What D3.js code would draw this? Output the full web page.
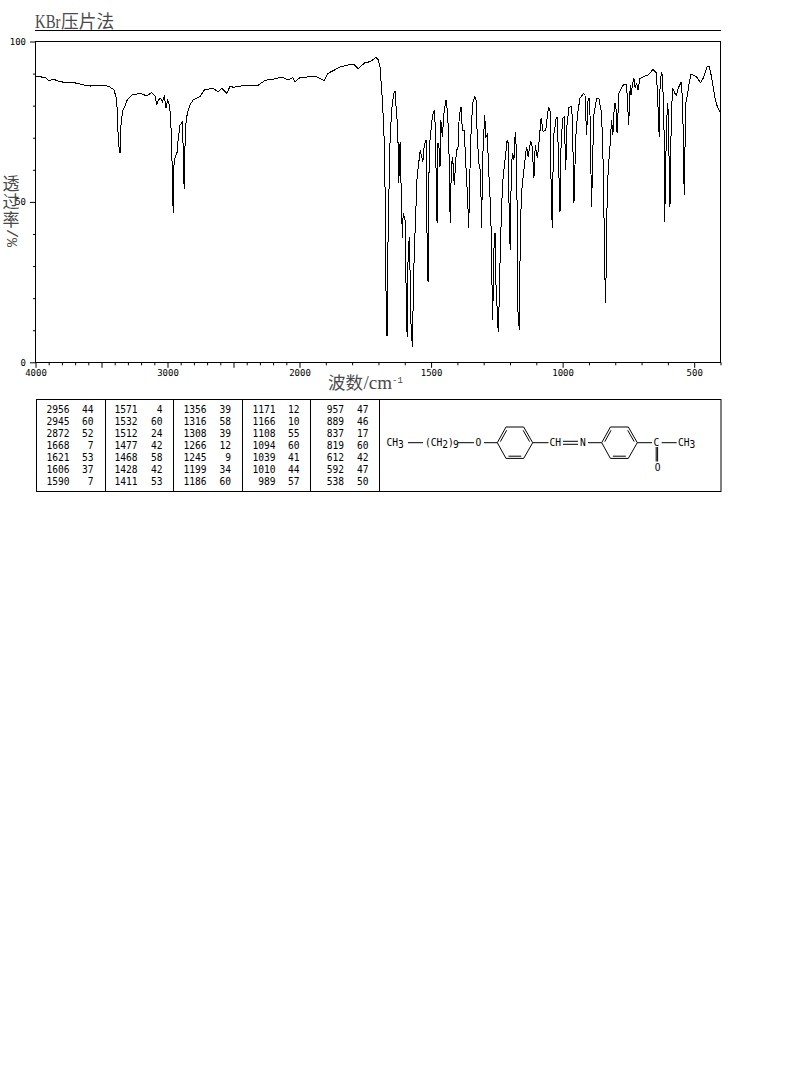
<!DOCTYPE html>
<html><head><meta charset="utf-8">
<script src="https://cdn.jsdelivr.net/npm/d3@7/dist/d3.min.js"></script>
<style>html,body{margin:0;padding:0;background:#fff}svg{display:block}</style>
</head><body><svg id="c" width="794" height="1077"></svg>
<script>
const wavenumbers=[4000,3981,3951,3920,3898,3860,3830,3777,3701,3625,3587,3549,3473,3436,3405,3390,3380,3373,3362,3354,3352,3339,3322,3305,3271,3208,3158,3120,3095,3082,3070,3051,3039,3024,3011,2998,2986,2976,2966,2961,2956,2953,2943,2926,2920,2905,2888,2883,2880,2873,2865,2850,2830,2805,2754,2721,2655,2617,2589,2551,2526,2501,2451,2388,2352,2312,2261,2248,2201,2186,2125,2087,2051,2034,1998,1986,
1941,1907,1891,1872,1846,1796,1777,1751,1732,1713,1709,1700,1694,1685,1679,1675,1671,1669,1665,1664.5,1661,1656,1650,1642,1637,1632,1627,1622,1621,1617,1614,1609,1606,1599,1596,1593,1590,1589,1583,1580,1576,1571,1568,1564,1560,1553,1547,1541,1536,1531,1526,1519,1517,1514,1511,1509,1504,1495,1488,1482,1480,1476,1474,1470,1466,1463,1457,1451,1443,1437,1432,1429,1427,1423,1418,1412,1405,1400,1398,1393,1386,1381,1374,1365,1361,1357,1353,1348,1342,1334,1329,1324,1317,1312,1308,1304,1299,1296,1292,1285,1283,1276,1270,1267,1265,1262,1257,1253,1248,1245,1242,1238,1232,1226,1219,1211,1206,1203,1199,1195,1190,1185,1180,1174,1172,1169,1164,1161,1156,1150,1143,1137,1131,1122,1117,1109,1104,1096,1089,1082,1074,1064,1057,1052,1047,1043,1039,1035,1029,1024,1020,1015,1010,1006,1000,994,988,984,976,968,963,957,950,943,934,921,915,909,903,897,890,882,871,862,852,846,839,836,833,827,820,814,809,803,798,793,786,770,757,749,743,740,734,729,724,719,713,706,694,675,656,645,640,636,633,630,625,620,614,612,608,602,599,592,587,582,573,567,561,550,544,538,532,527,519,512,504,491,476,466,451,443,434,421,412,401];
const transmittance=[89.0,89.2,88.9,88.6,87.8,88.2,87.7,87.2,87.1,86.4,86.1,86.4,86.4,85.8,84.9,82.7,78.6,69.3,65.3,65.3,74.6,78.6,79.9,81.8,83.3,83.8,83.1,84.0,83.1,80.2,81.8,82.3,81.2,82.8,79.3,81.8,80.2,76.6,63.1,52.1,46.4,61.0,63.7,65.6,69.3,74.0,74.8,70.3,59.9,53.9,72.9,77.6,80.2,81.8,82.8,84.9,85.4,84.3,85.4,83.8,86.1,85.7,86.1,86.4,86.4,86.4,87.9,88.0,88.0,88.5,88.8,88.0,88.8,87.5,88.8,88.8,
89.2,87.8,90.1,90.9,92.1,93.0,91.6,93.4,93.7,94.8,95.1,94.2,92.1,81.8,71.5,54.7,20.4,8.2,8.2,33.1,49.7,68.4,78.6,83.8,84.6,78.6,73.4,55.9,66.2,68.8,54.7,38.7,46.5,44.4,29.8,11.1,8.0,28.8,39.2,28.8,11.1,4.9,18.5,34.1,42.3,57.9,62.1,66.2,64.1,62.5,67.7,69.3,56.8,25.7,25.1,55.9,69.3,76.6,78.6,71.5,44.4,43.8,68.4,67.2,61.0,75.5,70.3,77.7,81.8,77.7,66.2,50.6,43.4,61.0,64.1,55.3,64.1,67.2,66.2,76.6,79.7,72.4,72.4,56.8,51.2,41.9,57.4,71.5,80.8,82.7,81.8,69.3,61.0,59.9,41.9,63.1,72.4,77.1,69.9,71.5,63.1,51.6,37.2,13.2,16.3,34.1,40.3,23.6,15.4,9.5,16.3,31.0,48.5,57.9,63.1,69.1,68.3,43.4,35.0,61.0,65.2,63.1,71.9,64.1,23.6,13.8,10.1,41.2,52.8,57.9,63.1,67.2,64.1,68.8,68.4,57.5,67.7,63.7,69.3,76.1,71.9,72.4,77.7,79.4,78.1,49.0,41.8,70.3,73.4,76.4,76.4,61.0,46.9,67.2,76.1,76.4,59.9,73.4,79.5,79.7,76.6,49.6,70.3,77.6,82.3,83.8,83.3,70.9,82.3,82.3,48.5,76.6,82.3,82.1,77.6,62.0,25.7,18.4,43.4,59.9,67.2,75.5,70.9,80.7,80.7,71.4,83.8,86.4,86.7,74.0,86.4,83.3,87.0,88.5,85.4,87.0,84.9,88.5,89.0,89.6,91.3,90.3,84.9,76.6,70.3,84.9,90.6,89.0,70.3,43.8,63.1,80.7,78.6,48.5,76.6,85.4,83.8,83.3,85.4,87.2,81.8,52.1,80.7,82.8,87.0,89.9,89.5,89.0,87.2,88.5,92.1,92.1,89.0,82.3,79.7,77.9];

const xLabelled=[4000,3000,2000,1500,1000,500];
const xMajor=[4000,3500,3000,2500,2000,1500,1000,500];
const xMinor=[3900,3800,3700,3600,3400,3300,3200,3100,2900,2800,2700,2600,2400,2300,2200,2100,1900,1800,1700,1600,1400,1300,1200,1100,900,800,700,600,400];
const yLabelled=[100,50,0];
const yMinor=[90,80,70,60,40,30,20,10];

const peakColumns=[
 [[2956,44],[2945,60],[2872,52],[1668,7],[1621,53],[1606,37],[1590,7]],
 [[1571,4],[1532,60],[1512,24],[1477,42],[1468,58],[1428,42],[1411,53]],
 [[1356,39],[1316,58],[1308,39],[1266,12],[1245,9],[1199,34],[1186,60]],
 [[1171,12],[1166,10],[1108,55],[1094,60],[1039,41],[1010,44],[989,57]],
 [[957,47],[889,46],[837,17],[819,60],[612,42],[592,47],[538,50]]
];
const titleLatin="KBr", titleCjk="压片法";
const yTitleChars=["透","过","率"], yTitleUnit="/%";

const svg=d3.select("#c");
const CJK='"Noto Sans CJK SC"', LMONO='"Liberation Mono"', SERIF='"Liberation Serif"', MONO='"DejaVu Sans Mono"';
const gray="#4a4a4a";
const x=d3.scaleLinear().domain([4000,2000,400]).range([35.5,299.5,720.5]);
const y=d3.scaleLinear().domain([0,100]).range([362.3,41.5]);

// title & rule
svg.append("text").attr("x",35).attr("y",28.3).attr("fill",gray).attr("font-family",SERIF).attr("font-size",18)
 .attr("textLength",25.5).attr("lengthAdjust","spacingAndGlyphs").text(titleLatin);
svg.append("text").attr("x",61).attr("y",28.3).attr("fill",gray).attr("font-family",CJK).attr("font-size",17.7).text(titleCjk);
svg.append("line").attr("x1",35).attr("x2",721).attr("y1",30.5).attr("y2",30.5).attr("stroke","#000");

// frame
svg.append("rect").attr("x",x(4000)).attr("y",41.5).attr("width",x(400)-x(4000)).attr("height",321).attr("fill","none").attr("stroke","#000").attr("stroke-width",1);

function styleAxis(g){g.select(".domain").remove();g.selectAll("line").attr("stroke","#000").attr("stroke-width",1);
 g.selectAll("text").attr("font-family",MONO).attr("font-size",9).attr("fill","#000");}
svg.append("g").attr("transform",`translate(0,${y(0)})`)
 .call(d3.axisBottom(x).tickValues(xMinor).tickSize(3).tickFormat("")).call(styleAxis);
svg.append("g").attr("transform",`translate(0,${y(0)})`)
 .call(d3.axisBottom(x).tickValues(xMajor).tickSize(5.5).tickPadding(2).tickFormat(d=>xLabelled.includes(d)?d:"")).call(styleAxis);
svg.append("g").attr("transform",`translate(${x(4000)},0)`)
 .call(d3.axisLeft(y).tickValues(yMinor).tickSize(2.5).tickFormat("")).call(styleAxis);
svg.append("g").attr("transform",`translate(${x(4000)},0)`)
 .call(d3.axisLeft(y).tickValues(yLabelled).tickSize(5.5).tickPadding(4).tickFormat(d=>d)).call(styleAxis);

// spectrum
const pts=wavenumbers.map((w,i)=>[w,transmittance[i]]);
svg.append("path").datum(pts)
 .attr("d",d3.line().x(d=>x(d[0])).y(d=>y(d[1])))
 .attr("fill","none").attr("stroke","#000").attr("stroke-width",1).attr("shape-rendering","crispEdges");

// axis titles
svg.append("text").attr("x",328).attr("y",388.5).attr("fill",gray).attr("font-family",CJK).attr("font-size",17.5).text("波数");
svg.append("text").attr("x",363.5).attr("y",388.5).attr("fill",gray).attr("font-family",SERIF).attr("font-size",18)
 .attr("textLength",28.5).attr("lengthAdjust","spacingAndGlyphs").text("/cm");
svg.append("text").attr("x",392).attr("y",382.5).attr("fill",gray).attr("font-family",LMONO).attr("font-size",9).text("-1");
yTitleChars.forEach((ch,i)=>svg.append("text").attr("x",11).attr("y",190+18*i).attr("text-anchor","middle")
 .attr("fill",gray).attr("font-family",CJK).attr("font-size",17).text(ch));
svg.append("text").attr("transform","translate(7,229) rotate(90)").attr("fill",gray)
 .attr("font-family",LMONO).attr("font-size",15).text(yTitleUnit);

// peak table
const tb=svg.append("g");
const tblEdges=[36.5,105.5,173.5,242.5,310.5,379.5,721];
tb.append("rect").attr("x",36.5).attr("y",399.5).attr("width",684.5).attr("height",92).attr("fill","none").attr("stroke","#000");
tblEdges.slice(1,-1).forEach(v=>tb.append("line").attr("x1",v).attr("x2",v).attr("y1",399.5).attr("y2",491.5).attr("stroke","#000"));
const colRight=[[69.5,93.5],[137.5,162.5],[206.5,231],[275.5,299.5],[344,368.5]];
peakColumns.forEach((col,c)=>col.forEach((row,r)=>row.forEach((v,k)=>{
 tb.append("text").attr("x",colRight[c][k]).attr("y",412.8+12*r).attr("text-anchor","end")
  .attr("font-family",MONO).attr("font-size",9.6).attr("fill","#000").text(v);
})));

// structure
const m=svg.append("g").attr("stroke","#000").attr("stroke-width",1).attr("fill","none");
const seg=(a,b,c,d,w)=>m.append("line").attr("x1",a).attr("y1",b).attr("x2",c).attr("y2",d).attr("stroke-width",w||1);
function ring(l,r){
 const cy=442.7,h=15.7,tl=l+8.7,tr=r-9;
 const P=[[l,cy],[tl,cy-h],[tr,cy-h],[r,cy],[tr,cy+h],[tl,cy+h]];
 P.forEach((p,i)=>{const q=P[(i+1)%6];seg(p[0],p[1],q[0],q[1]);});
 const cx=(l+r)/2;
 [[0,1],[2,3],[4,5]].forEach(([a,b])=>{
  const A=P[a],B=P[b],f=0.86;
  const ax=cx+(A[0]-cx)*f,ay=cy+(A[1]-cy)*f,bx=cx+(B[0]-cx)*f,by=cy+(B[1]-cy)*f;
  seg(ax+(bx-ax)*.08,ay+(by-ay)*.08,bx-(bx-ax)*.08,by-(by-ay)*.08);
 });
}
ring(497.3,532.7); ring(601.7,637.3);
seg(408,442.7,423,442.7); seg(458,442.7,474,442.7); seg(484,442.7,497.3,442.7);
seg(532.7,442.7,548.5,442.7); seg(563,441.3,578,441.3); seg(563,444.3,578,444.3);
seg(588,442.7,601.7,442.7); seg(637.3,442.7,652,442.7); seg(661.7,442.7,676.7,442.7);
seg(656.2,447,656.2,461.5); seg(657.6,447,657.6,461.5);
function lab(xp,yp,s,sub,tail){
 const e=svg.append("text").attr("x",xp).attr("y",yp).attr("font-family",MONO).attr("font-size",9.6).attr("fill","#000").text(s);
 if(sub) e.append("tspan").attr("dy",1.5).text(sub);
 if(tail) e.append("tspan").attr("dy",-1.5).text(tail);
}
lab(386.5,446.2,"CH","3");
lab(425,446.2,"(CH","2",")");
svg.append("text").attr("x",453).attr("y",447.7).attr("font-family",MONO).attr("font-size",9.6).text("9");
lab(475.5,446.2,"O");
lab(549.5,446.2,"CH");
lab(580,446.2,"N");
lab(653.5,446.2,"C");
lab(678,446.2,"CH","3");
lab(654.8,471,"O");
</script></body></html>
